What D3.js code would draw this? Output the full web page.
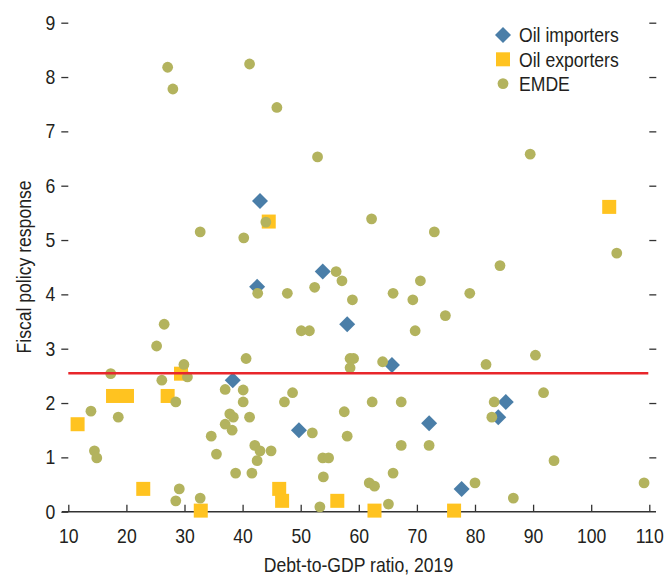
<!DOCTYPE html>
<html>
<head>
<meta charset="utf-8">
<script src="https://cdn.jsdelivr.net/npm/d3@7"></script>
<style>
  body { margin: 0; background: #fff; }
  svg text { font-family: "Liberation Sans Narrow", "Arial Narrow", "Liberation Sans", sans-serif; fill: #231f20; }
</style>
</head>
<body>
<svg id="chart" width="665" height="577"></svg>
<script>
// Oil importers (diamonds)
const importersX = [43.0, 53.8, 42.5, 58.0, 65.7, 38.3, 49.7, 72.1, 85.3, 84.0, 77.7];
const importersY = [5.72, 4.42, 4.14, 3.45, 2.70, 2.42, 1.50, 1.63, 2.02, 1.74, 0.42];

// Oil exporters (squares)
const exportersX = [103.1, 44.5, 29.4, 17.7, 20.1, 27.1, 11.6, 22.9, 32.8, 46.3, 46.8, 56.3, 62.7, 76.4];
const exportersY = [5.61, 5.34, 2.54, 2.13, 2.13, 2.13, 1.61, 0.42, 0.02, 0.42, 0.20, 0.20, 0.02, 0.02];

// EMDE (circles)
const emdeX = [27.1, 28.0, 41.2, 45.9, 52.9, 89.5, 32.7, 44.0, 40.2, 62.2, 73.0, 104.4, 84.3, 56.1, 57.1,
  42.6, 47.7, 52.4, 58.9, 65.9, 70.6, 69.3, 79.1, 74.9, 26.5, 25.2, 50.1, 51.5, 69.7, 40.6, 58.5, 59.1,
  58.5, 64.1, 90.4, 81.9, 29.9, 17.3, 26.1, 30.5, 37.0, 40.1, 40.1, 48.6, 47.2, 28.5, 13.9, 18.6, 37.8,
  38.4, 41.2, 37.0, 38.2, 52.0, 57.5, 58.0, 62.3, 67.3, 91.8, 83.3, 82.9, 34.6, 35.5, 14.5, 14.9, 67.3,
  72.1, 42.1, 43.0, 44.9, 42.5, 53.8, 54.8, 93.6, 38.8, 41.6, 53.9, 65.9, 61.8, 62.7, 80.0, 109.1, 29.1,
  28.5, 32.7, 53.3, 65.1, 86.6];
const emdeY = [8.18, 7.78, 8.24, 7.44, 6.53, 6.58, 5.15, 5.33, 5.04, 5.39, 5.15, 4.76, 4.53, 4.42, 4.25,
  4.02, 4.02, 4.13, 3.90, 4.02, 4.25, 3.90, 4.02, 3.61, 3.45, 3.05, 3.33, 3.33, 3.33, 2.82, 2.82, 2.82,
  2.65, 2.76, 2.88, 2.71, 2.71, 2.54, 2.42, 2.48, 2.25, 2.24, 2.02, 2.19, 2.02, 2.02, 1.85, 1.74, 1.80,
  1.74, 1.74, 1.61, 1.50, 1.45, 1.84, 1.39, 2.02, 2.02, 2.19, 2.02, 1.74, 1.39, 1.06, 1.12, 0.99, 1.22,
  1.22, 1.22, 1.12, 1.12, 0.94, 0.99, 0.99, 0.94, 0.71, 0.71, 0.64, 0.71, 0.53, 0.47, 0.53, 0.53, 0.42,
  0.20, 0.25, 0.09, 0.14, 0.25];

const averageResponse = 2.55;
const xTicks = [10, 20, 30, 40, 50, 60, 70, 80, 90, 100, 110];
const yTicks = [0, 1, 2, 3, 4, 5, 6, 7, 8, 9];
const legendLabels = ["Oil importers", "Oil exporters", "EMDE"];

const colBlue = "#4a7ea8", colYellow = "#ffc320", colOlive = "#b3b35e", colRed = "#e8262b";
const fontSize = "20px";
const squeeze = 0.88; // fake a condensed face

const svg = d3.select("#chart");
const x = d3.scaleLinear().domain([10, 110]).range([68.3, 649.3]);
const y = d3.scaleLinear().domain([0, 9]).range([511.7, 22.7]);

// squeeze text horizontally, keeping its anchor point in place
const condense = sel => sel.each(function() {
  const t = d3.select(this);
  const tx = +t.attr("x") || 0;
  t.attr("x", tx / squeeze).attr("transform", `scale(${squeeze},1)`);
});

// x axis
const gx = svg.append("g").attr("transform", `translate(0,${y(0)})`)
  .call(d3.axisBottom(x).tickValues(xTicks).tickSize(-7).tickSizeOuter(0).tickPadding(17));
gx.select(".domain").remove();
gx.append("line").attr("x1", 62).attr("x2", 656).attr("stroke", "#333").attr("stroke-width", 1.5);
gx.selectAll(".tick line").attr("stroke", "#333").attr("stroke-width", 1.3);
gx.selectAll(".tick text").style("font-size", fontSize).attr("dy", "0.71em").call(condense);

// left y axis
const gy = svg.append("g").attr("transform", `translate(${x(10)},0)`)
  .call(d3.axisLeft(y).tickValues(yTicks).tickSize(7).tickPadding(6));
gy.select(".domain").remove();
gy.selectAll(".tick line").attr("stroke", "#333").attr("stroke-width", 1.3);
gy.selectAll(".tick text").style("font-size", fontSize).call(condense);

// right ticks
const gr = svg.append("g").attr("transform", `translate(${x(110)},0)`)
  .call(d3.axisRight(y).tickValues(yTicks.slice(1)).tickSize(7).tickFormat(""));
gr.select(".domain").remove();
gr.selectAll(".tick line").attr("stroke", "#333").attr("stroke-width", 1.3);

// points
const sq = 14;
svg.append("g").selectAll("rect")
  .data(exportersX.map((d, i) => [d, exportersY[i]]))
  .enter().append("rect")
  .attr("x", d => x(d[0]) - sq / 2)
  .attr("y", d => y(d[1]) - sq / 2)
  .attr("width", sq).attr("height", sq)
  .attr("fill", colYellow);

const diamond = d3.symbol().type(d3.symbolSquare).size(128);
svg.append("g").selectAll("path")
  .data(importersX.map((d, i) => [d, importersY[i]]))
  .enter().append("path")
  .attr("d", diamond)
  .attr("transform", d => `translate(${x(d[0])},${y(d[1])}) rotate(45)`)
  .attr("fill", colBlue);

svg.append("g").selectAll("circle")
  .data(emdeX.map((d, i) => [d, emdeY[i]]))
  .enter().append("circle")
  .attr("cx", d => x(d[0]))
  .attr("cy", d => y(d[1]))
  .attr("r", 5.4)
  .attr("fill", colOlive);

// average line
svg.append("line")
  .attr("x1", x(10)).attr("x2", x(110) - 1)
  .attr("y1", y(averageResponse)).attr("y2", y(averageResponse))
  .attr("stroke", colRed).attr("stroke-width", 2.5);

// legend
const lg = svg.append("g").attr("transform", "translate(503,35)");
const legendRows = lg.selectAll("g").data(legendLabels).enter().append("g")
  .attr("transform", (d, i) => `translate(0,${i * 24.3})`);
legendRows.each(function(d, i) {
  const g = d3.select(this);
  if (i === 0) g.append("path").attr("d", diamond).attr("transform", "rotate(45)").attr("fill", colBlue);
  else if (i === 1) g.append("rect").attr("x", -7).attr("y", -7).attr("width", sq).attr("height", sq).attr("fill", colYellow);
  else g.append("circle").attr("r", 5.4).attr("fill", colOlive);
});
legendRows.append("text").attr("x", 16).attr("dy", "0.36em").style("font-size", fontSize).text(d => d).call(condense);

// axis titles
svg.append("g").attr("transform", "translate(358.5,572)")
  .append("text").attr("text-anchor", "middle").style("font-size", fontSize)
  .text("Debt-to-GDP ratio, 2019").call(condense);
svg.append("g").attr("transform", "translate(31,267) rotate(-90)")
  .append("text").attr("text-anchor", "middle").style("font-size", fontSize)
  .text("Fiscal policy response").call(condense);
</script>
</body>
</html>
